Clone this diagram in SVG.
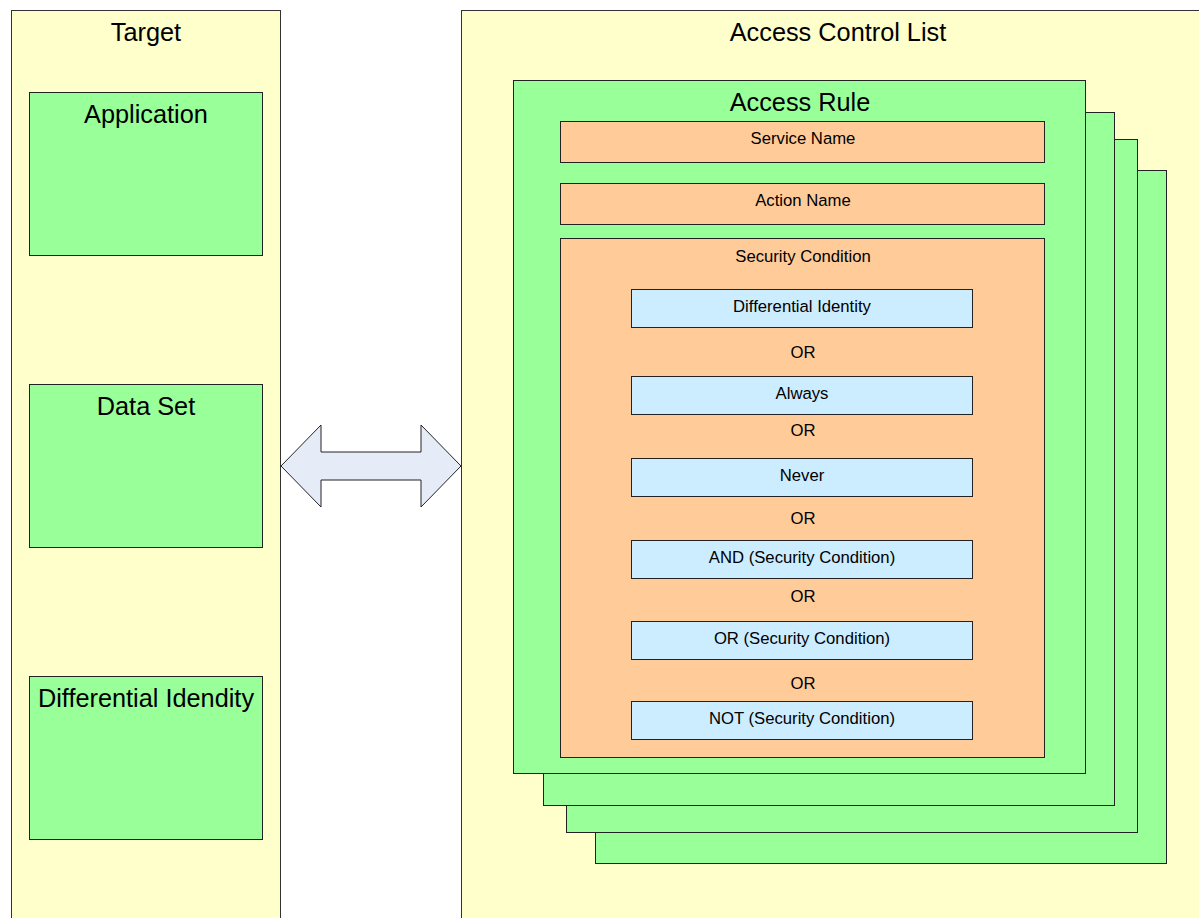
<svg xmlns="http://www.w3.org/2000/svg" width="1199" height="918" viewBox="0 0 1199 918">
  <style>
    .panel { fill: #FFFFCC; stroke: #333; stroke-width: 1; }
    .green { fill: #99FF99; stroke: #222; stroke-width: 1; }
    .orange { fill: #FFCC99; stroke: #222; stroke-width: 1; }
    .blue { fill: #CCECFF; stroke: #222; stroke-width: 1; }
    .big { font-family: "Liberation Sans", Arial, sans-serif; font-size: 25.3px; fill: #000; text-anchor: middle; }
    .small { font-family: "Liberation Sans", Arial, sans-serif; font-size: 16.7px; fill: #000; text-anchor: middle; }
  </style>

  <rect width="1199" height="918" fill="#FFFFFF"/>

  <!-- Target container -->
  <g id="target">
    <rect class="panel" x="11.5" y="10.5" width="269" height="920"/>
    <text class="big" x="146" y="41">Target</text>
  </g>
  <g id="application">
    <rect class="green" x="29.5" y="92.5" width="233" height="163"/>
    <text class="big" x="146" y="123">Application</text>
  </g>
  <g id="data-set">
    <rect class="green" x="29.5" y="384.5" width="233" height="163"/>
    <text class="big" x="146" y="415">Data Set</text>
  </g>
  <g id="differential-idendity">
    <rect class="green" x="29.5" y="676.5" width="233" height="163"/>
    <text class="big" x="146" y="707">Differential Idendity</text>
  </g>

  <!-- Access Control List container -->
  <g id="access-control-list">
    <rect class="panel" x="461.5" y="10.5" width="760" height="920"/>
    <text class="big" x="838" y="41">Access Control List</text>
  </g>

  <!-- stacked access rules, back to front -->
  <g id="access-rule-stack">
    <rect class="green" x="595.5" y="170.5" width="571" height="693"/>
    <rect class="green" x="566.5" y="139.5" width="571" height="693"/>
    <rect class="green" x="543.5" y="112.5" width="571" height="693"/>
  </g>
  <g id="access-rule">
    <rect class="green" x="513.5" y="80.5" width="572" height="693"/>
    <text class="big" x="800" y="111">Access Rule</text>
  </g>
  <g id="service-name">
    <rect class="orange" x="560.5" y="121.5" width="484" height="41"/>
    <text class="small" x="803" y="144">Service Name</text>
  </g>
  <g id="action-name">
    <rect class="orange" x="560.5" y="183.5" width="484" height="41"/>
    <text class="small" x="803" y="206">Action Name</text>
  </g>
  <g id="security-condition">
    <rect class="orange" x="560.5" y="238.5" width="484" height="519"/>
    <text class="small" x="803" y="262">Security Condition</text>
  </g>

  <g id="cond-differential-identity">
    <rect class="blue" x="631.5" y="289.5" width="341" height="38"/>
    <text class="small" x="802" y="312">Differential Identity</text>
  </g>
  <text class="small" x="803" y="358">OR</text>
  <g id="cond-always">
    <rect class="blue" x="631.5" y="376.5" width="341" height="38"/>
    <text class="small" x="802" y="399">Always</text>
  </g>
  <text class="small" x="803" y="436">OR</text>
  <g id="cond-never">
    <rect class="blue" x="631.5" y="458.5" width="341" height="38"/>
    <text class="small" x="802" y="481">Never</text>
  </g>
  <text class="small" x="803" y="524">OR</text>
  <g id="cond-and">
    <rect class="blue" x="631.5" y="540.5" width="341" height="38"/>
    <text class="small" x="802" y="563">AND (Security Condition)</text>
  </g>
  <text class="small" x="803" y="602">OR</text>
  <g id="cond-or">
    <rect class="blue" x="631.5" y="621.5" width="341" height="38"/>
    <text class="small" x="802" y="644">OR (Security Condition)</text>
  </g>
  <text class="small" x="803" y="689">OR</text>
  <g id="cond-not">
    <rect class="blue" x="631.5" y="701.5" width="341" height="38"/>
    <text class="small" x="802" y="724">NOT (Security Condition)</text>
  </g>

  <!-- two-way link between Target and Access Control List -->
  <g id="connectors">
    <polygon points="281,466 321,425 321,452 421,452 421,425 461,466 421,507 421,480 321,480 321,507"
             fill="#E6ECF7" stroke="#222" stroke-width="1" stroke-linejoin="miter"/>
  </g>
</svg>
